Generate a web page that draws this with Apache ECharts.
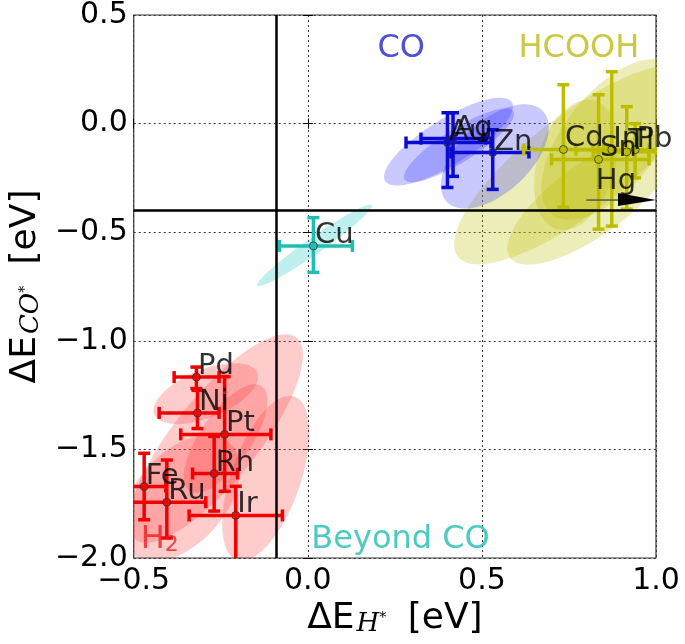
<!DOCTYPE html>
<html>
<head>
<meta charset="utf-8">
<script src="https://cdn.jsdelivr.net/npm/echarts@6/dist/echarts.min.js"></script>
<style>
  html, body { margin: 0; padding: 0; background: #fff; }
  #chart { width: 685px; height: 644px; }
</style>
</head>
<body>
<div id="chart"></div>
<script>
// ---- data ----
var groupNames = ['H2', 'CO', 'HCOOH', 'Beyond CO'];

var metals  = ['Pd', 'Ni', 'Pt', 'Rh', 'Fe', 'Ru', 'Ir', 'Au', 'Ag', 'Zn', 'Cd', 'Sn', 'In', 'Tl', 'Pb', 'Cu'];
var metalGroup = [0, 0, 0, 0, 0, 0, 0, 1, 1, 1, 2, 2, 2, 2, 2, 3];
var dEH     = [-0.320, -0.317, -0.239, -0.269, -0.470, -0.405, -0.207, 0.401, 0.417, 0.531, 0.734, 0.835, 0.873, 0.916, 0.940, 0.016];
var dECO    = [-1.167, -1.332, -1.431, -1.611, -1.671, -1.743, -1.804, -0.087, -0.069, -0.133, -0.119, -0.165, -0.120, -0.130, -0.120, -0.563];
var dEHlo   = [-0.384, -0.427, -0.365, -0.331, -0.520, -0.520, -0.341, 0.282, 0.325, 0.411, 0.620, 0.700, 0.770, 0.820, 0.860, -0.082];
var dEHhi   = [-0.255, -0.255, -0.106, -0.202, -0.408, -0.293, -0.073, 0.526, 0.511, 0.635, 0.850, 0.980, 0.980, 1.020, 1.020, 0.128];
var dECOlo  = [-1.220, -1.404, -1.693, -1.784, -1.824, -1.908, -2.070, -0.294, -0.243, -0.303, -0.385, -0.486, -0.472, -0.394, -0.250, -0.685];
var dECOhi  = [-1.121, -1.228, -1.165, -1.440, -1.518, -1.549, -1.670, 0.050, 0.050, -0.028, 0.179, 0.133, 0.239, 0.078, 0.000, -0.433];

// confidence ellipses: centre, spread in x / y, correlation
var ellGroup = [0, 0, 0, 0, 0, 2, 2, 2, 2, 1, 1, 1, 3];
var ellCx    = [-0.264, -0.121, -0.365, -0.293, -0.236, 0.770, 0.871, 0.813, 0.770, 0.404, 0.434, 0.537, 0.020];
var ellCy    = [-1.450, -1.633, -1.725, -1.243, -1.450, -0.188, -0.073, -0.349, -0.190, -0.083, -0.100, -0.151, -0.560];
var ellSx    = [0.250, 0.125, 0.170, 0.150, 0.120, 0.350, 0.200, 0.240, 0.120, 0.185, 0.158, 0.155, 0.165];
var ellSy    = [0.480, 0.380, 0.290, 0.140, 0.250, 0.460, 0.370, 0.300, 0.300, 0.202, 0.170, 0.240, 0.188];
var ellRho   = [0.80, 0.55, 0.45, 0.55, 0.70, 0.80, 0.60, 0.75, 0.30, 0.80, 0.85, 0.55, 0.97];

// limiting lines
var limitEH = -0.09;
var limitECO = -0.40;

// Hg lies off to the right: label + arrow
var hgLabel = [0.81, -0.295];
var hgArrow = [-0.352, 0.80, 1.0];   // y, x from, x to

// region labels
var regionText = ['CO', 'HCOOH', 'Beyond CO', '{a|H}{b|2}'];
var regionX = [0.20, 0.605, 0.01, -0.48];
var regionY = [0.294, 0.294, -1.968, -1.968];

var xTicks = [-0.5, 0.0, 0.5, 1.0];
var yTicks = [-2.0, -1.5, -1.0, -0.5, 0.0, 0.5];

// ---- styles ----
var barColors  = ['#f00000', '#0a0ad2', '#bdbd00', '#22bdb2'];
var ellColors  = ['rgba(255,40,40,0.24)', 'rgba(40,40,255,0.25)', 'rgba(190,190,0,0.27)', 'rgba(0,191,191,0.25)'];
var textColors = ['#2424c8', '#bcbc14', '#22bdb2', '#e82020'];
var FONT = 'DejaVu Sans';

function fmt(v) {
    return v.toFixed(1).replace('-', '\u2212');
}

var myChart = echarts.init(document.getElementById('chart'));

var ellData = [];
for (var i = 0; i < ellCx.length; i++) {
    ellData.push([ellCx[i], ellCy[i], ellSx[i], ellSy[i], ellRho[i], ellGroup[i]]);
}
var barData = [];
var pointData = [];
for (var j = 0; j < metals.length; j++) {
    barData.push([dEH[j], dECO[j], dEHlo[j], dEHhi[j], dECOlo[j], dECOhi[j], metalGroup[j]]);
    pointData.push({
        value: [dEH[j], dECO[j], metals[j]],
        itemStyle: { color: barColors[metalGroup[j]] }
    });
}
pointData.push({ value: [hgLabel[0], hgLabel[1], 'Hg'], symbolSize: 0 });

var regionData = [];
for (var k = 0; k < regionText.length; k++) {
    regionData.push({
        value: [regionX[k], regionY[k], regionText[k]],
        label: { color: textColors[k] }
    });
}

function renderEllipse(params, api) {
    var cx = api.value(0), cy = api.value(1), sx = api.value(2), sy = api.value(3), r = api.value(4);
    var q = Math.sqrt(1 - r * r);
    var pts = [];
    for (var n = 0; n < 90; n++) {
        var t = n / 90 * 2 * Math.PI;
        pts.push(api.coord([cx + sx * Math.cos(t), cy + sy * (r * Math.cos(t) + q * Math.sin(t))]));
    }
    return {
        type: 'polygon',
        shape: { points: pts },
        style: { fill: ellColors[api.value(5)], stroke: null }
    };
}

function renderErrorBar(params, api) {
    var x = api.value(0), y = api.value(1);
    var l = api.coord([api.value(2), y]), r = api.coord([api.value(3), y]);
    var b = api.coord([x, api.value(4)]), t = api.coord([x, api.value(5)]);
    var st = { stroke: barColors[api.value(6)], lineWidth: 3.5 };
    var cap = 6;
    function seg(x1, y1, x2, y2) {
        return { type: 'line', shape: { x1: x1, y1: y1, x2: x2, y2: y2 }, style: st };
    }
    return {
        type: 'group',
        children: [
            seg(l[0], l[1], r[0], r[1]),
            seg(b[0], b[1], t[0], t[1]),
            seg(l[0], l[1] - cap, l[0], l[1] + cap),
            seg(r[0], r[1] - cap, r[0], r[1] + cap),
            seg(b[0] - cap, b[1], b[0] + cap, b[1]),
            seg(t[0] - cap, t[1], t[0] + cap, t[1])
        ]
    };
}

function renderArrow(params, api) {
    var a = api.coord([api.value(1), api.value(0)]);
    var tip = api.coord([api.value(2), api.value(0)]);
    var base = tip[0] - 38;
    return {
        type: 'group',
        children: [
            { type: 'line', shape: { x1: a[0], y1: a[1], x2: base, y2: a[1] },
              style: { stroke: '#555', lineWidth: 1.5 } },
            { type: 'polygon', shape: { points: [[base, tip[1] - 7], [tip[0], tip[1]], [base, tip[1] + 6]] },
              style: { fill: '#000' } }
        ]
    };
}

var axisCommon = {
    type: 'value',
    interval: 0.5,
    axisLine: { show: false },
    axisTick: { show: true, inside: true, length: 5, lineStyle: { color: '#000', width: 1 } },
    splitLine: { show: false }
};

var nameRich = {
    m: { fontSize: 36, fontFamily: FONT, color: '#000', verticalAlign: 'bottom', lineHeight: 44 },
    s: { fontSize: 26, fontFamily: 'DejaVu Serif', fontStyle: 'italic', color: '#000', verticalAlign: 'bottom', padding: [0, 0, 0, 2] },
    t: { fontSize: 14, fontFamily: 'DejaVu Serif', color: '#000', verticalAlign: 'bottom', padding: [0, 10, 12, 0] }
};

var option = {
    backgroundColor: '#fff',
    animation: false,
    grid: { left: 132, right: 29, top: 15, bottom: 86, show: true, borderColor: '#333', borderWidth: 1.2, backgroundColor: 'transparent' },
    xAxis: [
        Object.assign({}, axisCommon, {
            min: xTicks[0], max: xTicks[xTicks.length - 1], position: 'bottom',
            axisLabel: { fontSize: 30, fontFamily: FONT, color: '#000', margin: 8, formatter: fmt },
            splitLine: { show: true, lineStyle: { color: '#333', type: [2, 3], width: 1 } },
            name: '{m|\u0394E}{s|H}{t|*}{m| [eV]}',
            nameLocation: 'middle',
            nameGap: 25,
            nameTextStyle: { rich: nameRich }
        }),
        Object.assign({}, axisCommon, {
            min: xTicks[0], max: xTicks[xTicks.length - 1], position: 'top',
            axisLabel: { show: false }
        })
    ],
    yAxis: [
        Object.assign({}, axisCommon, {
            min: yTicks[0], max: yTicks[yTicks.length - 1], position: 'left',
            axisLabel: { fontSize: 30, fontFamily: FONT, color: '#000', margin: 6, formatter: fmt },
            splitLine: { show: true, lineStyle: { color: '#333', type: [2, 3], width: 1 } },
            name: '{m|\u0394E}{s|CO}{t|*}{m| [eV]}',
            nameLocation: 'middle',
            nameRotate: 90,
            nameGap: 84,
            nameTextStyle: { rich: nameRich }
        }),
        Object.assign({}, axisCommon, {
            min: yTicks[0], max: yTicks[yTicks.length - 1], position: 'right',
            axisLabel: { show: false }
        })
    ],
    series: [
        {
            name: 'ellipses',
            type: 'custom',
            clip: true,
            z: 1,
            renderItem: renderEllipse,
            encode: { x: 0, y: 1 },
            data: ellData,
            silent: true
        },
        {
            name: 'limits',
            type: 'line',
            data: [],
            z: 2,
            markLine: {
                silent: true,
                symbol: 'none',
                label: { show: false },
                lineStyle: { color: '#000', width: 2.5, type: 'solid' },
                data: [{ xAxis: limitEH }, { yAxis: limitECO }]
            }
        },
        {
            name: 'errorbars',
            type: 'custom',
            clip: true,
            z: 3,
            renderItem: renderErrorBar,
            encode: { x: 0, y: 1 },
            data: barData,
            silent: true
        },
        {
            name: 'Hg arrow',
            type: 'custom',
            z: 3,
            renderItem: renderArrow,
            encode: { x: 1, y: 0 },
            data: [hgArrow],
            silent: true
        },
        {
            name: 'metals',
            type: 'scatter',
            z: 4,
            symbol: 'circle',
            symbolSize: 8,
            itemStyle: { borderColor: '#333', borderWidth: 1 },
            label: {
                show: true,
                position: [4, 4],
                align: 'left',
                verticalAlign: 'middle',
                offset: [2, -10],
                fontSize: 29,
                fontFamily: FONT,
                color: '#000',
                formatter: function (p) { return p.data.value[2]; }
            },
            data: pointData
        },
        {
            name: 'regions',
            type: 'scatter',
            z: 5,
            symbolSize: 0,
            label: {
                show: true,
                position: [0, 0],
                align: 'left',
                verticalAlign: 'middle',
                offset: [0, -11],
                fontSize: 32,
                fontFamily: FONT,
                formatter: function (p) { return p.data.value[2]; },
                rich: {
                    a: { fontSize: 32, fontFamily: FONT, color: '#e82020', verticalAlign: 'bottom' },
                    b: { fontSize: 22, fontFamily: FONT, color: '#e82020', verticalAlign: 'bottom' }
                }
            },
            data: regionData
        }
    ]
};

myChart.setOption(option);
</script>
</body>
</html>
